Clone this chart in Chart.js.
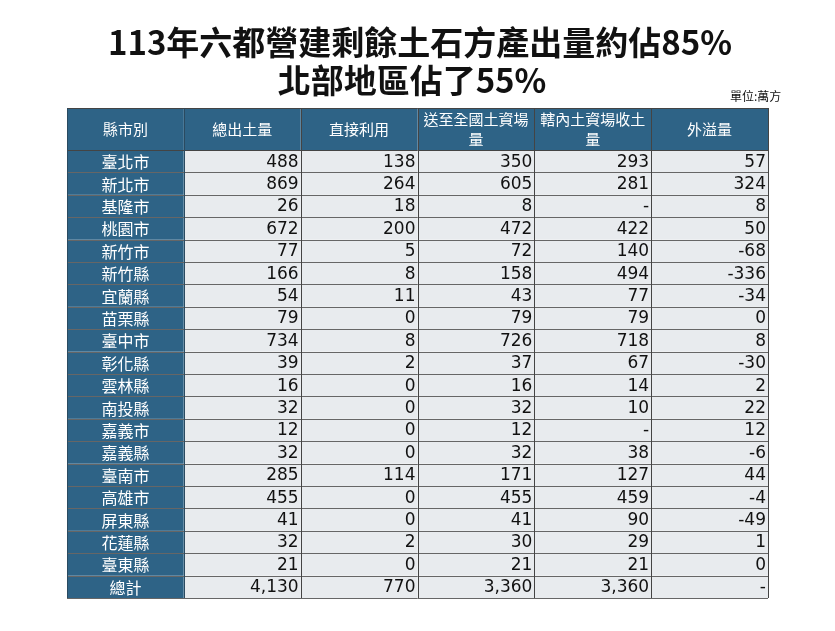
<!DOCTYPE html>
<html><head><meta charset="utf-8">
<script src="https://cdn.jsdelivr.net/npm/chart.js@4"></script>
<style>html,body{margin:0;padding:0;background:#fff}</style>
</head><body>
<div style="width:835px;height:631px"><canvas id="c"></canvas></div>
<script>
const titleLines = ['113年六都營建剩餘土石方產出量約佔85%', '北部地區佔了55%'];
const unitLabel = '單位:萬方';
const headers = ['縣市別', '總出土量', '直接利用', '送至全國土資場|量', '轄內土資場收土|量', '外溢量'];
const cities = ['臺北市','新北市','基隆市','桃園市','新竹市','新竹縣','宜蘭縣','苗栗縣','臺中市','彰化縣','雲林縣','南投縣','嘉義市','嘉義縣','臺南市','高雄市','屏東縣','花蓮縣','臺東縣','總計'];
const totalOut = ['488','869','26','672','77','166','54','79','734','39','16','32','12','32','285','455','41','32','21','4,130'];
const directUse = ['138','264','18','200','5','8','11','0','8','2','0','0','0','0','114','0','0','2','0','770'];
const toNational = ['350','605','8','472','72','158','43','79','726','37','16','32','12','32','171','455','41','30','21','3,360'];
const localRecv = ['293','281','-','422','140','494','77','79','718','67','14','10','-','38','127','459','90','29','21','3,360'];
const overflow = ['57','324','8','50','-68','-336','-34','0','8','-30','2','22','12','-6','44','-4','-49','1','0','-'];
const columns = [cities, totalOut, directUse, toNational, localRecv, overflow];
const HEAD = 1.875;
const F = '"Noto Sans CJK TC","Noto Sans",sans-serif';

const tablePlugin = {
  id: 'table',
  afterDraw(chart) {
    const ctx = chart.ctx, xs = chart.scales.x, ys = chart.scales.y;
    const X = v => xs.getPixelForValue(v), Y = v => ys.getPixelForValue(v);
    ctx.save();
    // title
    ctx.fillStyle = '#111'; ctx.textAlign = 'center'; ctx.textBaseline = 'middle';
    ctx.font = 'bold 33px ' + F;
    ctx.fillText(titleLines[0], 420, 42);
    ctx.fillText(titleLines[1], 412, 80);
    ctx.font = '12px ' + F; ctx.textAlign = 'left';
    ctx.fillText(unitLabel, 730, 96);
    const total = HEAD + cities.length;
    // header
    for (let c = 0; c < headers.length; c++) {
      const x0 = X(c), x1 = X(c + 1), y0 = Y(0), y1 = Y(HEAD);
      ctx.fillStyle = '#2E6386'; ctx.fillRect(x0, y0, x1 - x0, y1 - y0);
      ctx.fillStyle = '#fff'; ctx.font = '15px ' + F; ctx.textAlign = 'center';
      const parts = headers[c].split('|');
      if (parts.length === 1) ctx.fillText(parts[0], (x0 + x1) / 2, (y0 + y1) / 2);
      else { ctx.fillText(parts[0], (x0 + x1) / 2, y0 + 11); ctx.fillText(parts[1], (x0 + x1) / 2, y0 + 31); }
    }
    for (let r = 0; r < cities.length; r++) {
      const y0 = Y(HEAD + r), y1 = Y(HEAD + r + 1), ym = (y0 + y1) / 2 + 1;
      for (let c = 0; c < columns.length; c++) {
        const x0 = X(c), x1 = X(c + 1);
        if (c === 0) {
          ctx.fillStyle = '#2E6386'; ctx.fillRect(x0, y0, x1 - x0, y1 - y0);
          ctx.fillStyle = '#fff'; ctx.font = '16px ' + F; ctx.textAlign = 'center';
          ctx.fillText(columns[c][r], (x0 + x1) / 2, ym);
        } else {
          ctx.fillStyle = '#E8EBEE'; ctx.fillRect(x0, y0, x1 - x0, y1 - y0);
          ctx.fillStyle = '#111'; ctx.font = '17px "DejaVu Sans",sans-serif'; ctx.textAlign = 'right';
          ctx.fillText(columns[c][r], x1 - 2, ym);
        }
      }
    }
    // grid lines
    ctx.lineWidth = 1;
    for (let r = 0; r <= cities.length; r++) {
      const y = Math.round(Y(HEAD + r)) + 0.5;
      ctx.strokeStyle = r === 0 ? '#444' : '#666';
      ctx.beginPath(); ctx.moveTo(X(0), y); ctx.lineTo(X(6), y); ctx.stroke();
    }
    ctx.strokeStyle = '#444';
    ctx.beginPath(); ctx.moveTo(X(0), Math.round(Y(0)) + 0.5); ctx.lineTo(X(6), Math.round(Y(0)) + 0.5); ctx.stroke();
    for (let c = 0; c <= 6; c++) {
      const x = Math.round(X(c)) + 0.5;
      ctx.strokeStyle = c <= 1 ? '#2a4a60' : '#444';
      ctx.beginPath(); ctx.moveTo(x, Y(0)); ctx.lineTo(x, Y(total)); ctx.stroke();
    }
    ctx.restore();
  }
};

new Chart(document.getElementById('c'), {
  type: 'scatter',
  data: { datasets: [{ data: [], pointRadius: 0 }] },
  options: {
    responsive: true, maintainAspectRatio: false, animation: false,
    layout: { padding: { left: 67, right: 67, top: 108, bottom: 33 } },
    plugins: { legend: { display: false }, tooltip: { enabled: false } },
    scales: {
      x: { type: 'linear', min: 0, max: 6, display: false },
      y: { type: 'linear', min: 0, max: HEAD + cities.length, reverse: true, display: false }
    }
  },
  plugins: [tablePlugin]
});
</script>
</body></html>
